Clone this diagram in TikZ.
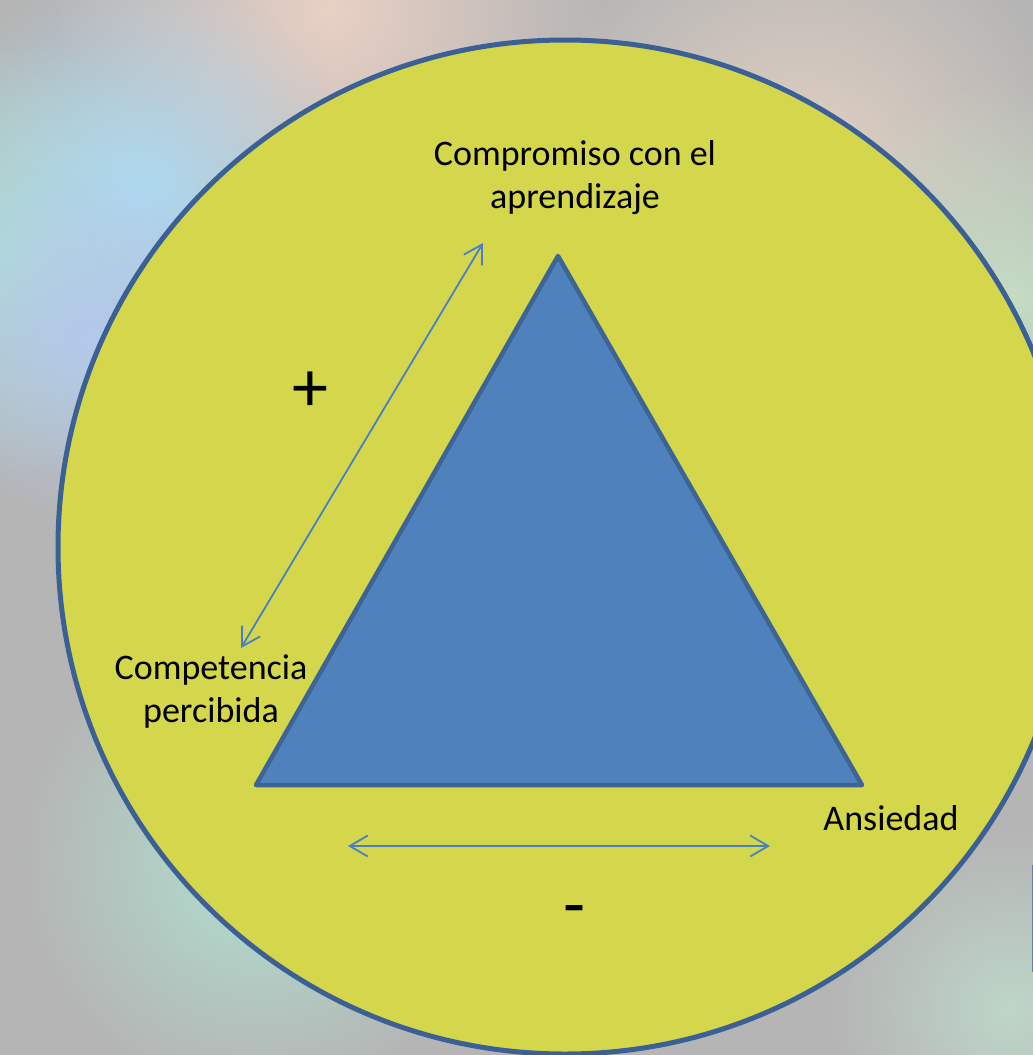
\documentclass[tikz,border=0pt]{standalone}
\usepackage{fontspec}
\setmainfont{Carlito}
\usetikzlibrary{arrows.meta,fadings}
\definecolor{bggray}{HTML}{B5B5B5}
\definecolor{ringfill}{HTML}{D4D64B}
\definecolor{ringline}{HTML}{3A6096}
\definecolor{trifill}{HTML}{4F81BD}
\definecolor{triline}{HTML}{3C6494}
\definecolor{arrowblue}{HTML}{4A7EC6}
\tikzfading[name=softblob,inner color=transparent!0,outer color=transparent!100]

\begin{document}
\begin{tikzpicture}[x=1pt,y=-1pt,
blob/.style={path fading=softblob},
ring/.style={fill=ringfill,draw=ringline,line width=5pt},
tri/.style={fill=trifill,draw=triline,line width=4.5pt,line join=round},
link/.style={draw=arrowblue,line width=1.8pt,{Straight Barb[length=18pt,width=21pt]}-{Straight Barb[length=18pt,width=21pt]}},
label/.style={inner sep=0pt,font=\fontsize{36}{43}\selectfont,align=center},
sign/.style={inner sep=0pt,font=\fontsize{72}{80}\selectfont}
]
\useasboundingbox (0,0) rectangle (1033,1055);
\clip (0,0) rectangle (1033,1055);
\fill[bggray] (0,0) rectangle (1033,1055);
\fill[blob,fill={rgb,255:red,232;green,208;blue,196}] (330,10) circle[radius=280];
\fill[blob,fill={rgb,255:red,228;green,210;blue,196}] (800,180) circle[radius=280];
\fill[blob,fill={rgb,255:red,176;green,224;blue,200}] (10,260) circle[radius=220];
\fill[blob,fill={rgb,255:red,174;green,218;blue,242}] (140,190) circle[radius=220];
\fill[blob,fill={rgb,255:red,180;green,200;blue,236}] (90,340) circle[radius=180];
\fill[blob,fill={rgb,255:red,176;green,224;blue,208}] (260,860) circle[radius=240];
\fill[blob,fill={rgb,255:red,196;green,220;blue,196}] (1010,300) circle[radius=220];
\fill[blob,fill={rgb,255:red,190;green,214;blue,200}] (1010,1010) circle[radius=180];

\draw[ring] (565,547) circle[radius=507];

\coordinate (apex) at (558,256);
\coordinate (lower left) at (256,785);
\coordinate (lower right) at (862,785);
\draw[tri] (apex) -- (lower left) -- (lower right) -- cycle;

\node[label] (compromiso) at (575,178) {Compromiso con el\\aprendizaje};
\node[label] (competencia) at (211,692) {Competencia\\percibida};
\node[label,anchor=base] (ansiedad) at (891,830) {Ansiedad};

\coordinate (plus top) at (483,243);
\coordinate (plus bottom) at (241,648);
\coordinate (minus left) at (348,846);
\coordinate (minus right) at (770,846);
\draw[link] (plus bottom) -- (plus top);
\draw[link] (minus left) -- (minus right);

\node[sign] (plus) at (310,392) {+};
\node[sign] (minus) at (575,917) {-};

\draw[arrowblue!60!gray,line width=1pt] (1032,865) -- (1032,972);
\end{tikzpicture}
\end{document}
